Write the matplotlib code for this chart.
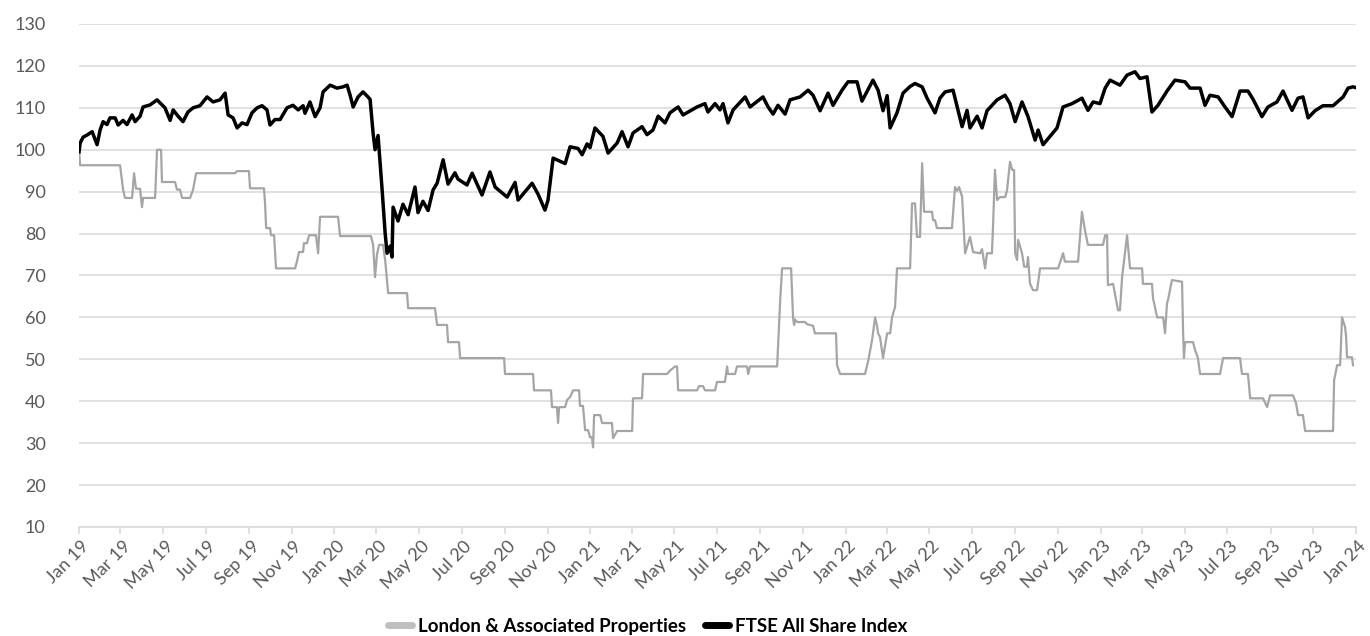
import matplotlib
matplotlib.use('Agg')
import matplotlib.pyplot as plt
import matplotlib.dates as mdates
import matplotlib.transforms as mtransforms
import numpy as np
import pandas as pd

# Data: x = position along the time axis (59.45 units = Jan 19 .. Jan 24),
# y = rebased value
ftse_months = [0.00, 0.05, 0.19, 0.37, 0.61, 0.84, 0.98, 1.12, 1.30, 1.44, 1.68, 1.82, 2.05, 2.23,
               2.47, 2.61, 2.84, 2.98, 3.31, 3.63, 3.86, 4.00, 4.24, 4.38, 4.61, 4.84, 5.07, 5.31,
               5.63, 5.96, 6.24, 6.56, 6.80, 6.94, 7.17, 7.36, 7.59, 7.82, 8.05, 8.29, 8.52, 8.75,
               8.89, 9.12, 9.36, 9.68, 9.96, 10.20, 10.43, 10.52, 10.75, 10.99, 11.22, 11.36, 11.69,
               12.01, 12.29, 12.48, 12.62, 12.76, 12.99, 13.22, 13.45, 13.55, 13.69, 13.78, 13.92,
               14.11, 14.25, 14.34, 14.48, 14.57, 14.62, 14.85, 15.08, 15.32, 15.64, 15.78, 16.01,
               16.25, 16.48, 16.67, 16.95, 17.18, 17.50, 17.64, 18.06, 18.30, 18.76, 19.13, 19.37,
               19.93, 20.30, 20.44, 21.09, 21.37, 21.69, 21.83, 22.07, 22.63, 22.86, 23.23, 23.42,
               23.65, 23.79, 24.02, 24.39, 24.63, 25.05, 25.28, 25.56, 25.79, 26.21, 26.44, 26.72,
               26.96, 27.28, 27.51, 27.89, 28.12, 28.77, 29.14, 29.28, 29.61, 29.84, 29.98, 30.21,
               30.45, 31.01, 31.24, 31.84, 32.08, 32.31, 32.54, 32.87, 33.10, 33.57, 33.94, 34.17,
               34.50, 34.87, 35.10, 35.52, 35.80, 36.22, 36.45, 36.96, 37.20, 37.43, 37.62, 37.76,
               38.08, 38.36, 38.69, 38.92, 39.25, 39.48, 39.85, 40.08, 40.32, 40.69, 41.11, 41.34,
               41.48, 41.81, 42.04, 42.27, 42.74, 43.11, 43.34, 43.58, 43.90, 44.18, 44.51, 44.65,
               44.88, 45.53, 45.81, 46.23, 46.69, 46.97, 47.21, 47.53, 47.77, 48.00, 48.46, 48.79,
               49.16, 49.39, 49.72, 49.95, 50.23, 50.65, 51.02, 51.49, 51.72, 52.19, 52.42, 52.65,
               53.03, 53.35, 53.68, 54.05, 54.42, 54.66, 55.07, 55.35, 55.77, 56.05, 56.47, 56.75,
               56.98, 57.22, 57.54, 57.91, 58.38, 58.85, 59.08, 59.31, 59.45]
ftse_values = [99.5, 101.6, 103.0, 103.5, 104.3, 101.2, 104.7, 106.7, 106.0, 107.6, 107.6, 105.9, 107.0, 106.0,
               108.3, 106.7, 108.0, 110.2, 110.7, 111.9, 110.7, 110.0, 107.0, 109.5, 108.0, 106.7, 109.0, 110.0,
               110.5, 112.6, 111.4, 111.9, 113.5, 108.3, 107.6, 105.2, 106.4, 106.0, 108.8, 110.0, 110.5, 109.5,
               105.9, 107.2, 107.2, 110.0, 110.6, 109.5, 110.5, 108.7, 111.4, 107.9, 110.0, 113.8, 115.4,
               114.7, 115.0, 115.4, 113.0, 110.2, 112.6, 113.8, 112.6, 112.0, 103.9, 100.0, 103.4,
               90.4, 80.1, 75.3, 77.0, 74.4, 86.3, 83.0, 87.0, 84.5, 91.1, 85.0, 87.7,
               85.5, 90.4, 92.0, 97.6, 91.8, 94.5, 93.0, 91.6, 94.4, 89.2, 94.7, 91.1,
               88.7, 92.2, 88.0, 92.0, 89.4, 85.6, 87.9, 98.0, 96.7, 100.7, 100.3, 98.8,
               101.4, 100.5, 105.2, 103.2, 99.2, 101.6, 104.3, 100.7, 104.0, 105.5, 103.6, 104.7,
               108.0, 106.4, 108.8, 110.2, 108.3, 110.2, 111.0, 109.0, 111.0, 109.5, 111.0, 106.4,
               109.5, 112.6, 110.2, 112.6, 110.2, 108.5, 110.6, 108.5, 111.9, 112.6, 114.2, 113.0,
               109.3, 113.5, 110.6, 114.2, 116.2, 116.2, 111.6, 116.6, 114.2, 109.3, 112.9, 105.2,
               108.8, 113.5, 115.1, 115.8, 115.0, 112.3, 108.8, 112.3, 113.8, 114.2, 105.5, 109.4,
               105.2, 108.0, 105.2, 109.3, 111.9, 113.0, 111.0, 106.7, 111.4, 107.9, 102.3, 104.7,
               101.2, 105.2, 110.2, 111.0, 112.3, 109.4, 111.4, 111.0, 114.7, 116.6, 115.4, 117.8,
               118.6, 117.0, 117.4, 109.0, 110.6, 114.0, 116.6, 116.2, 114.7, 114.7, 110.6, 113.0,
               112.6, 110.2, 107.9, 114.0, 114.0, 112.0, 107.9, 110.2, 111.4, 114.0, 109.4, 112.3,
               112.6, 107.6, 109.3, 110.5, 110.5, 112.6, 114.7, 115.0, 114.8]

lap_months = [0.00, 0.05, 1.91, 2.05, 2.14, 2.47, 2.56, 2.65, 2.84, 2.93, 2.98, 3.54, 3.63, 3.82,
              3.86, 4.47, 4.56, 4.70, 4.80, 5.17, 5.31, 5.45, 7.26, 7.36, 7.91, 7.96, 8.61, 8.66,
              8.71, 8.89, 8.94, 9.08, 9.17, 10.06, 10.15, 10.24, 10.43, 10.47, 10.61, 10.71, 11.03,
              11.13, 11.22, 12.06, 12.15, 13.59, 13.69, 13.78, 13.87, 13.97, 14.15, 14.25, 14.39,
              15.27, 15.32, 16.57, 16.67, 17.13, 17.18, 17.69, 17.74, 19.79, 19.83, 21.14, 21.18,
              21.97, 22.02, 22.25, 22.30, 22.35, 22.63, 22.72, 22.86, 23.00, 23.28, 23.32, 23.46,
              23.56, 23.70, 23.79, 23.88, 23.93, 23.98, 24.26, 24.35, 24.81, 24.86, 25.05, 25.75,
              25.79, 26.21, 26.26, 27.37, 27.51, 27.75, 27.84, 27.89, 28.77, 28.86, 29.05, 29.14,
              29.61, 29.70, 30.07, 30.17, 30.21, 30.54, 30.63, 31.10, 31.15, 31.24, 32.50, 32.64,
              32.73, 33.15, 33.24, 33.29, 33.33, 33.43, 33.80, 33.89, 34.17, 34.26, 35.24, 35.29,
              35.43, 36.59, 36.73, 36.92, 37.06, 37.15, 37.20, 37.29, 37.43, 37.62, 37.76, 37.85,
              37.99, 38.08, 38.69, 38.78, 38.92, 39.01, 39.15, 39.25, 39.34, 39.71, 39.76, 39.85,
              39.94, 40.64, 40.78, 40.88, 40.97, 41.11, 41.25, 41.48, 41.62, 41.95, 42.04, 42.18,
              42.27, 42.50, 42.55, 42.64, 42.74, 42.88, 43.11, 43.20, 43.34, 43.44, 43.53, 43.58,
              43.67, 43.72, 43.90, 44.00, 44.13, 44.18, 44.27, 44.41, 44.60, 44.74, 45.58, 45.81,
              45.90, 46.51, 46.69, 46.83, 46.97, 47.67, 47.77, 47.86, 47.90, 48.14, 48.37, 48.46,
              48.56, 48.79, 48.93, 49.49, 49.53, 49.95, 50.00, 50.19, 50.47, 50.56, 50.65, 50.70,
              50.88, 51.35, 51.40, 51.44, 51.49, 51.86, 51.96, 52.09, 52.19, 53.12, 53.26, 54.05,
              54.14, 54.42, 54.52, 55.12, 55.31, 55.45, 56.52, 56.66, 56.75, 56.98, 57.08, 58.38,
              58.43, 58.57, 58.71, 58.80, 58.94, 58.99, 59.03, 59.26, 59.31]
lap_values = [100.0, 96.3, 96.3, 90.5, 88.5, 88.5, 94.4, 90.7, 90.7, 86.3, 88.5, 88.5, 100.0, 100.0,
              92.3, 92.3, 90.5, 90.5, 88.5, 88.5, 90.5, 94.4, 94.4, 94.9, 94.9, 90.8, 90.8, 87.2,
              81.3, 81.3, 79.6, 79.6, 71.7, 71.7, 73.5, 75.6, 75.6, 77.7, 77.7, 79.6, 79.6,
              75.3, 84.0, 84.0, 79.4, 79.4, 77.3, 69.6, 75.0, 77.3, 77.3, 73.7, 65.8,
              65.8, 62.2, 62.2, 58.2, 58.2, 54.1, 54.1, 50.3, 50.3, 46.5, 46.5, 42.6,
              42.6, 38.6, 38.6, 34.8, 38.6, 38.6, 40.3, 41.0, 42.6, 42.6, 38.9, 38.9,
              33.1, 33.1, 31.4, 31.4, 29.0, 36.7, 36.7, 34.8, 34.8, 31.2, 32.9, 32.9,
              40.7, 40.7, 46.5, 46.5, 47.3, 48.3, 48.3, 42.6, 42.6, 43.6, 43.6, 42.6,
              42.6, 44.6, 44.6, 48.3, 46.5, 46.5, 48.3, 48.3, 46.5, 48.3, 48.3, 64.0,
              71.7, 71.7, 60.0, 58.2, 59.5, 58.9, 58.9, 58.4, 58.0, 56.2, 56.2, 48.6,
              46.5, 46.5, 49.4, 54.6, 60.0, 58.0, 56.2, 55.3, 50.3, 56.2, 56.2, 60.0,
              62.5, 71.7, 71.7, 87.2, 87.2, 79.2, 79.2, 96.8, 85.2, 85.2, 83.2, 83.2,
              81.3, 81.3, 91.1, 90.2, 91.1, 88.8, 75.3, 79.2, 75.6, 75.3, 76.3, 71.7,
              75.3, 75.3, 81.6, 95.2, 88.0, 88.7, 88.7, 90.2, 97.1, 95.2, 95.2, 75.3,
              73.7, 78.5, 75.3, 72.1, 72.1, 74.4, 68.1, 66.5, 66.5, 71.7, 71.7, 75.3,
              73.3, 73.3, 85.2, 80.8, 77.3, 77.3, 79.6, 79.6, 67.7, 68.0, 61.7, 61.7,
              69.6, 79.6, 71.7, 71.7, 68.0, 68.0, 64.6, 60.0, 60.0, 56.2, 63.4, 64.2,
              68.9, 68.5, 56.2, 50.3, 54.1, 54.1, 52.2, 50.3, 46.5, 46.5, 50.3, 50.3,
              46.5, 46.5, 40.7, 40.7, 38.6, 41.4, 41.4, 39.5, 36.7, 36.7, 32.9, 32.9,
              45.0, 48.6, 48.6, 60.0, 57.7, 55.3, 50.5, 50.5, 48.6]

series_names = ['London & Associated Properties', 'FTSE All Share Index']
y_ticks = list(range(10, 131, 10))

START = pd.Timestamp('2019-01-01')
END = pd.Timestamp('2024-01-01')
AXIS_UNITS = 59.45  # length of the time axis in the units used above


def to_dates(units):
    return START + (END - START) * (np.array(units) / AXIS_UNITS)


plt.rcParams['font.family'] = ['Lato', 'DejaVu Sans']

fig = plt.figure(figsize=(13.7, 6.36), dpi=100)
ax = fig.add_axes([0.0577, 0.1714, 0.9321, 0.7909])

grid_col = '#D9D9D9'
ax.plot(to_dates(lap_months), lap_values, color='#A5A5A5', lw=1.6, label=series_names[0], zorder=3)
ax.plot(to_dates(ftse_months), ftse_values, color='black', lw=2.5, label=series_names[1], zorder=4)

ax.set_ylim(10, 130)
ax.set_yticks(y_ticks)
ax.set_xlim(START, END)
ax.xaxis.set_major_locator(mdates.MonthLocator(bymonth=[1, 3, 5, 7, 9, 11]))
ax.xaxis.set_major_formatter(mdates.DateFormatter('%b %y'))

ax.grid(axis='y', color=grid_col, lw=1.1)
ax.set_axisbelow(True)
for side in ['left', 'right', 'top']:
    ax.spines[side].set_visible(False)
ax.spines['bottom'].set_color(grid_col)
ax.spines['bottom'].set_linewidth(1.1)

ax.tick_params(axis='y', length=0, labelsize=13, labelcolor='#595959', pad=24)
ax.tick_params(axis='x', length=5, width=1.1, color=grid_col, labelsize=13, labelcolor='#595959', pad=3)
shift = mtransforms.ScaledTranslation(2 / 100, 0, fig.dpi_scale_trans)
for lab in ax.get_xticklabels():
    lab.set_rotation(45)
    lab.set_horizontalalignment('right')
    lab.set_rotation_mode('anchor')
    lab.set_transform(lab.get_transform() + shift)

leg = fig.legend(loc='lower center', bbox_to_anchor=(0.4726, -0.025), ncol=2, frameon=False,
                 handlelength=1.3, columnspacing=1.0, handletextpad=0.3,
                 prop={'weight': 'bold', 'size': 13.5})
for h in leg.get_lines():
    h.set_linewidth(5)
    h.set_solid_capstyle('round')
leg.get_lines()[0].set_color('#BFBFBF')

fig.savefig('out.png', dpi=100)
